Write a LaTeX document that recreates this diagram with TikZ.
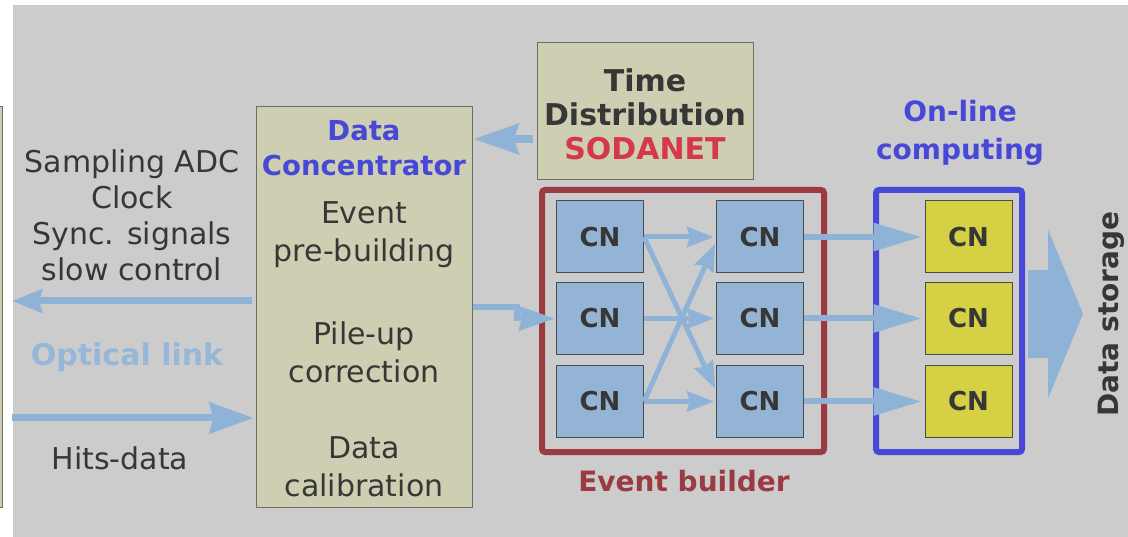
\documentclass[tikz,border=0pt]{standalone}
\usepackage{fontspec}
\setmainfont{DejaVu Sans}
\usetikzlibrary{arrows.meta}
\definecolor{bggray}{RGB}{204,204,204}
\definecolor{beige}{RGB}{206,206,178}
\definecolor{beigeline}{RGB}{110,110,95}
\definecolor{arrblue}{RGB}{143,179,214}
\definecolor{cnblue}{RGB}{148,180,214}
\definecolor{cnline}{RGB}{70,75,80}
\definecolor{cnyellow}{RGB}{214,208,68}
\definecolor{ebred}{RGB}{155,58,64}
\definecolor{ocblue}{RGB}{72,72,216}
\definecolor{sodared}{RGB}{215,55,75}
\definecolor{txtgray}{RGB}{55,55,55}
\definecolor{optblue}{RGB}{150,183,216}
\tikzset{
  beigebox/.style={draw=beigeline, line width=1pt, fill=beige, inner sep=0pt},
  cnbox/.style={draw=cnline, line width=1pt, fill=cnblue, minimum width=87pt, minimum height=72pt, inner sep=0pt,
     text=txtgray, font=\fontsize{26}{30}\selectfont\bfseries},
  cnyel/.style={cnbox, fill=cnyellow},
  frame/.style={line width=6pt, rounded corners=3pt, inner sep=0pt},
  lbl/.style={text=txtgray, align=center, inner sep=0pt},
  arr/.style={draw=arrblue, line width=#1},
  arr/.default=6pt,
}
\begin{document}
\begin{tikzpicture}[x=1pt,y=-1pt]
\useasboundingbox (0,0) rectangle (1128,537);
\fill[white] (0,0) rectangle (1128,537);
\fill[bggray] (13,5) rectangle (1128,537);
% partially visible box at the left edge
\draw[beigebox] (-20,107) rectangle (2.5,507);

% Time distribution
\node[beigebox, minimum width=216pt, minimum height=137pt] (td) at (645,111.5) {};
\node[lbl, font=\fontsize{30}{34}\selectfont\bfseries] (tdt) at (645,114)
  {Time\\Distribution\\\textcolor{sodared}{SODANET}};

% Data concentrator
\node[beigebox, minimum width=216pt, minimum height=400pt] (dc) at (364,307) {};
\node[lbl, text=ocblue, font=\fontsize{27.5}{35}\selectfont\bfseries] (dct) at (364,148) {Data\\Concentrator};
\node[lbl, font=\fontsize{30}{38}\selectfont] (dc1) at (364,235) {Event\\pre-building};
\node[lbl, font=\fontsize{30}{38}\selectfont] (dc2) at (364,352) {Pile-up\\correction};
\node[lbl, font=\fontsize{30}{38}\selectfont] (dc3) at (364,467) {Data\\calibration};

% left texts
\node[lbl, font=\fontsize{30}{36}\selectfont] (ctl) at (132,215)
  {Sampling ADC\\Clock\\Sync. signals\\slow control};
\node[lbl, text=optblue, font=\fontsize{30}{36}\selectfont\bfseries] (opt) at (127,357) {Optical link};
\node[lbl, font=\fontsize{30}{36}\selectfont] (hits) at (120,458) {Hits-data};

\coordinate (lout) at (12,301);
\coordinate (lin) at (12,418);
\draw[arr=7pt, shorten <=4pt, -{Stealth[length=30pt,width=23pt,inset=3pt]}] (dc.west |- lout) -- (lout);
\draw[arr=7pt, shorten >=2pt, -{Stealth[length=44pt,width=31pt,inset=4pt]}] (lin) -- (dc.west |- lin);

% time distribution -> data concentrator
\draw[arr=8pt, shorten <=4pt, shorten >=1pt, -{Stealth[length=45pt,width=30pt,inset=5pt]}]
  (td.west |- 0,139) -- (dc.east |- 0,139);

% event builder
\node[frame, draw=ebred, minimum width=282pt, minimum height=262pt] (eb) at (683,321) {};
\node[lbl, text=ebred, font=\fontsize{28}{32}\selectfont\bfseries] (ebt) at (684,481) {Event builder};
\node[cnbox] (c11) at (600,237) {CN};
\node[cnbox] (c21) at (600,318.5) {CN};
\node[cnbox] (c31) at (600,401.5) {CN};
\node[cnbox] (c12) at (760,237) {CN};
\node[cnbox] (c22) at (760,318.5) {CN};
\node[cnbox] (c32) at (760,401.5) {CN};

\tikzset{ebarr/.style={arr=5pt, shorten >=2pt, -{Stealth[length=27pt,width=20pt,inset=3pt]}}}
\draw[ebarr] (c11.east) -- (c12.west);
\draw[ebarr] (c21.east) -- (c22.west);
\draw[ebarr] (c31.east) -- (c32.west);
\draw[ebarr] (c11.east) -- ([yshift=11pt]c32.west);
\draw[ebarr] (c31.east) -- ([yshift=-5pt]c12.west);

% data concentrator -> event builder
\coordinate (jog) at (517,307);
\draw[arr=6pt, shorten >=1pt, -{Stealth[length=36pt,width=24pt,inset=3pt]}]
  (dc.east |- jog) -- (jog) |- (c21.west);

% on-line computing
\node[frame, draw=ocblue, minimum width=146pt, minimum height=262pt] (oc) at (949,321) {};
\node[lbl, text=ocblue, font=\fontsize{28}{38}\selectfont\bfseries] (oct) at (960,133) {On-line\\computing};
\node[cnyel] (y1) at (968.5,237) {CN};
\node[cnyel] (y2) at (968.5,318.5) {CN};
\node[cnyel] (y3) at (968.5,401.5) {CN};

\tikzset{ocarr/.style={arr=6pt, shorten >=3pt, -{Triangle[length=48pt,width=27pt]}}}
\draw[ocarr] (c12.east) -- (y1.west);
\draw[ocarr] (c22.east) -- (y2.west);
\draw[ocarr] (c32.east) -- (y3.west);

% data storage
\node[lbl, rotate=90, font=\fontsize{28}{30}\selectfont\bfseries] (ds) at (1111,314) {Data storage};
\coordinate (dstip) at (1083,314);
\draw[draw=arrblue, line width=88pt, -{Triangle[length=35pt,width=168pt]}]
  ([xshift=3pt]oc.east |- dstip) -- (dstip);
\end{tikzpicture}
\end{document}
